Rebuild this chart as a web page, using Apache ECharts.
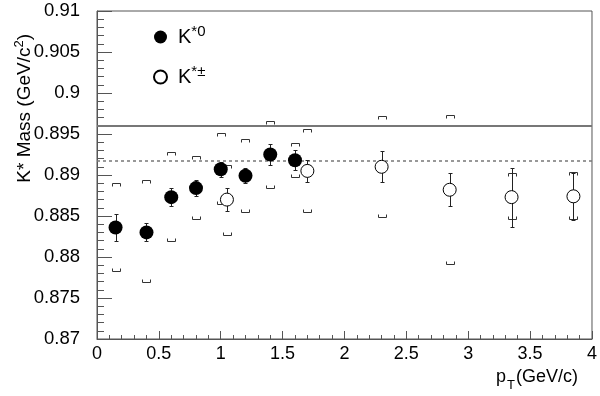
<!DOCTYPE html>
<html><head><meta charset="utf-8">
<script src="https://cdn.jsdelivr.net/npm/echarts@6/dist/echarts.min.js"></script>
<style>html,body{margin:0;padding:0;background:#fff}#c{width:600px;height:396px}</style>
</head><body><div id="c"></div>
<script>
// K*0 (filled)
const ptK0    = [0.15, 0.4, 0.6, 0.8, 1.0, 1.2, 1.4, 1.6];
const massK0  = [0.8836, 0.8830, 0.8873, 0.8884, 0.8907, 0.8899, 0.8925, 0.8918];
const statK0  = [0.0016, 0.0011, 0.0011, 0.0010, 0.0009, 0.0009, 0.0013, 0.0012];
const sysHiK0 = [0.8890, 0.8894, 0.8928, 0.8923, 0.8951, 0.8944, 0.8966, 0.8939];
const sysLoK0 = [0.8783, 0.8770, 0.8820, 0.8846, 0.8865, 0.8855, 0.8884, 0.8898];
// K*± (open)
const ptKpm    = [1.05, 1.7, 2.3, 2.85, 3.35, 3.85];
const massKpm  = [0.8870, 0.8905, 0.8910, 0.8882, 0.8873, 0.8874];
const statKpm  = [0.0014, 0.0013, 0.0019, 0.0020, 0.0036, 0.0029];
const sysHiKpm = [0.8912, 0.8956, 0.8972, 0.8973, 0.8902, 0.8904];
const sysLoKpm = [0.8827, 0.8855, 0.8849, 0.8791, 0.8846, 0.8846];
// reference masses (PDG)
const refMass = [0.896, 0.8917];
// tick labels
const xTickLabels = ['0','0.5','1','1.5','2','2.5','3','3.5','4'];
const yTickLabels = ['0.87','0.875','0.88','0.885','0.89','0.895','0.9','0.905','0.91'];

const FONT = "'Liberation Sans', Arial, sans-serif";
const AX = '#555';
const r = v => Math.round(v) + 0.5;

function errRender(params, api) {
  const x = api.value(0), lo = api.value(1), hi = api.value(2);
  const a = api.coord([x, lo]), b = api.coord([x, hi]);
  const cx = r(a[0]), y1 = r(a[1]), y2 = r(b[1]), cw = 2;
  const st = {stroke: '#222', lineWidth: 1, fill: null};
  return {type: 'group', children: [
    {type: 'line', shape: {x1: cx, y1: y1, x2: cx, y2: y2}, style: st},
    {type: 'line', shape: {x1: cx - cw, y1: y1, x2: cx + cw, y2: y1}, style: st},
    {type: 'line', shape: {x1: cx - cw, y1: y2, x2: cx + cw, y2: y2}, style: st}
  ]};
}
function sysRender(params, api) {
  const x = api.value(0), lo = api.value(1), hi = api.value(2);
  const a = api.coord([x, lo]), b = api.coord([x, hi]);
  const cx = Math.round(a[0]), yl = r(a[1]), yh = r(b[1]), w = 4, h = 3;
  const st = {stroke: '#333', lineWidth: 1, fill: null};
  return {type: 'group', children: [
    {type: 'polyline', shape: {points: [[cx - w + 0.5, yh + h], [cx - w + 0.5, yh], [cx + w + 0.5, yh], [cx + w + 0.5, yh + h]]}, style: st},
    {type: 'polyline', shape: {points: [[cx - w + 0.5, yl - h], [cx - w + 0.5, yl], [cx + w + 0.5, yl], [cx + w + 0.5, yl - h]]}, style: st}
  ]};
}

const statDataK0 = ptK0.map((x, i) => [x, massK0[i] - statK0[i], massK0[i] + statK0[i]]);
const statDataKpm = ptKpm.map((x, i) => [x, massKpm[i] - statKpm[i], massKpm[i] + statKpm[i]]);
const sysDataK0 = ptK0.map((x, i) => [x, sysLoK0[i], sysHiK0[i]]);
const sysDataKpm = ptKpm.map((x, i) => [x, sysLoKpm[i], sysHiKpm[i]]);

const chart = echarts.init(document.getElementById('c'), null, {renderer: 'canvas'});
chart.setOption({
  animation: false,
  backgroundColor: '#fff',
  textStyle: {fontFamily: FONT},
  grid: {left: 97, right: 8, top: 11, bottom: 57, show: true, borderColor: AX, borderWidth: 1, containLabel: false},
  legend: {
    orient: 'vertical', left: 148, top: 19, itemGap: 17, itemWidth: 13, itemHeight: 13,
    selectedMode: false,
    data: [{name: 'K*0', icon: 'circle'}, {name: 'K*±', icon: 'circle'}],
    formatter: n => n === 'K*0' ? '{k|K}{s|*0}' : '{k|K}{s|*±}',
    textStyle: {
      fontFamily: FONT, color: '#000',
      rich: {
        k: {fontFamily: FONT, fontSize: 20, lineHeight: 26, padding: [0, 0, 0, 6], color: '#000'},
        s: {fontFamily: FONT, fontSize: 15, lineHeight: 14, verticalAlign: 'top', color: '#000'}
      }
    }
  },
  xAxis: {
    type: 'value', min: 0, max: 4, interval: 0.5,
    axisLine: {show: true, lineStyle: {color: AX, width: 1}},
    axisTick: {show: true, inside: true, length: 8, lineStyle: {color: AX}},
    minorTick: {show: true, splitNumber: 5, length: 4, lineStyle: {color: AX}},
    splitLine: {show: false},
    axisLabel: {
      fontFamily: FONT, fontSize: 18, color: '#000', margin: 6,
      formatter: v => xTickLabels[Math.round(v / 0.5)]
    }
  },
  yAxis: {
    type: 'value', min: 0.87, max: 0.91, interval: 0.005,
    axisLine: {show: true, lineStyle: {color: AX, width: 1}},
    axisTick: {show: true, inside: true, length: 15, lineStyle: {color: AX}},
    minorTick: {show: true, splitNumber: 5, length: 7, lineStyle: {color: AX}},
    splitLine: {show: false},
    axisLabel: {
      fontFamily: FONT, fontSize: 18.5, color: '#000', margin: 17,
      formatter: v => yTickLabels[Math.round((v - 0.87) / 0.005)]
    }
  },
  graphic: [
    {
      type: 'text', x: 25, y: 34, rotation: Math.PI / 2,
      style: {
        text: '{a|K* Mass (GeV/c}{s|2}{a|)}', align: 'right', verticalAlign: 'middle',
        rich: {
          a: {fontFamily: FONT, fontSize: 19, lineHeight: 24, fill: '#000'},
          s: {fontFamily: FONT, fontSize: 13, lineHeight: 13, verticalAlign: 'top', fill: '#000'}
        }
      }
    },
    {
      type: 'text', x: 496, y: 368,
      style: {
        text: '{a|p}{t|T}{a|(GeV/c)}', align: 'left', verticalAlign: 'top',
        rich: {
          a: {fontFamily: FONT, fontSize: 18, lineHeight: 20, verticalAlign: 'top', fill: '#000'},
          t: {fontFamily: FONT, fontSize: 13, lineHeight: 13, padding: [11, 1, 0, 1], verticalAlign: 'top', fill: '#000'}
        }
      }
    }
  ],
  series: [
    {
      type: 'custom', name: 'sys', renderItem: sysRender, data: sysDataK0.concat(sysDataKpm),
      encode: {x: 0, y: [1, 2]}, z: 2, silent: true,
      markLine: {
        silent: true, symbol: 'none', label: {show: false}, z: 1, precision: 6,
        data: [
          {yAxis: refMass[0], lineStyle: {type: 'solid', color: '#777', width: 2}},
          {yAxis: refMass[1], lineStyle: {type: [3, 3], color: '#777', width: 1.5}}
        ]
      }
    },
    {type: 'custom', name: 'stat', renderItem: errRender, data: statDataK0.concat(statDataKpm),
     encode: {x: 0, y: [1, 2]}, z: 3, silent: true},
    {
      type: 'scatter', name: 'K*0', data: ptK0.map((x, i) => [x, massK0[i]]),
      symbol: 'circle', symbolSize: 14, z: 5,
      itemStyle: {color: '#000', borderColor: '#000', borderWidth: 0, opacity: 1}
    },
    {
      type: 'scatter', name: 'K*±', data: ptKpm.map((x, i) => [x, massKpm[i]]),
      symbol: 'circle', symbolSize: 13, z: 5,
      itemStyle: {color: '#fff', borderColor: '#000', borderWidth: 1, opacity: 1}
    }
  ]
});
</script>
</body></html>
